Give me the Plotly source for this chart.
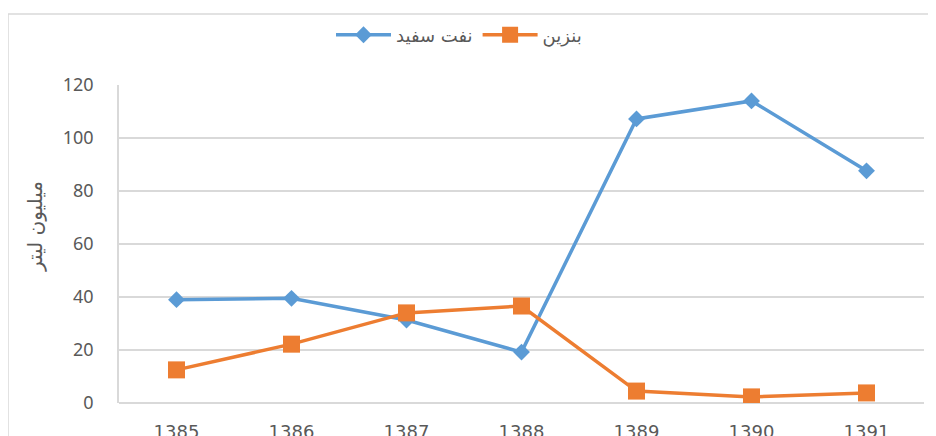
import plotly.graph_objects as go

years = ["1385", "1386", "1387", "1388", "1389", "1390", "1391"]
kerosene = [39.0, 39.5, 31.3, 19.2, 107.2, 114.0, 87.6]   # نفت سفید
gasoline = [12.5, 22.2, 34.0, 36.6, 4.5, 2.3, 3.8]        # بنزین
y_ticks = [0, 20, 40, 60, 80, 100, 120]

name_kerosene = "نفت سفید"
name_gasoline = "بنزین"
y_title = "میلیون لیتر"

fig = go.Figure()
fig.add_trace(go.Scatter(
    x=years, y=kerosene, name=name_kerosene, mode="lines+markers",
    line=dict(color="#5B9BD5", width=3.5),
    marker=dict(symbol="diamond", size=13, color="#5B9BD5"),
))
fig.add_trace(go.Scatter(
    x=years, y=gasoline, name=name_gasoline, mode="lines+markers",
    line=dict(color="#ED7D31", width=3.5),
    marker=dict(symbol="square", size=17, color="#ED7D31"),
))

# page body has an 8px margin; figure is sized/offset to compensate
OFF = 8
W, H = 936 - OFF, 436 - OFF
L, R, T, B = 119 - OFF, 12, 85 - OFF, 33
pw, ph = W - L - R, H - T - B


def px_x(page_x):
    return (page_x - OFF - L) / pw


def px_y(page_y):
    return (H - B - (page_y - OFF)) / ph


fig.update_layout(
    width=W, height=H,
    margin=dict(l=L, r=R, t=T, b=B, autoexpand=False),
    paper_bgcolor="white", plot_bgcolor="white",
    font=dict(family="Noto Sans, DejaVu Sans, sans-serif", color="#595959"),
    showlegend=True,
    legend=dict(
        orientation="h", x=px_x(459), xanchor="center",
        y=px_y(35), yanchor="middle",
        font=dict(size=18, family="DejaVu Sans, sans-serif", color="#595959"),
        bgcolor="rgba(0,0,0,0)", itemwidth=55, tracegroupgap=0,
    ),
    xaxis=dict(
        type="category", range=[-0.5, 6.5],
        showgrid=False, showline=False, zeroline=False,
        ticks="", tickfont=dict(size=18, family="DejaVu Sans, sans-serif", color="#595959"),
        ticklabelstandoff=16,
    ),
    yaxis=dict(
        range=[0, 120], tickvals=y_ticks, ticktext=[str(v) for v in y_ticks],
        showgrid=True, gridcolor="#D9D9D9", gridwidth=1.5,
        showline=True, linecolor="#D9D9D9", linewidth=1.5,
        zeroline=True, zerolinecolor="#D9D9D9", zerolinewidth=1.5,
        ticks="", tickfont=dict(size=18, color="#595959"),
        ticklabelstandoff=20,
    ),
    annotations=[dict(
        text=y_title, textangle=-90, showarrow=False,
        xref="paper", yref="paper",
        x=px_x(35), y=px_y(227), xanchor="center", yanchor="middle",
        font=dict(size=20, family="DejaVu Sans, sans-serif", color="#595959"),
    )],
    shapes=[dict(
        type="rect", xref="paper", yref="paper",
        x0=px_x(8), x1=px_x(960),
        y0=px_y(460), y1=px_y(14),
        line=dict(color="#D9D9D9", width=1.5), fillcolor="rgba(0,0,0,0)", layer="below",
    )],
)

fig.write_html("out.html")
